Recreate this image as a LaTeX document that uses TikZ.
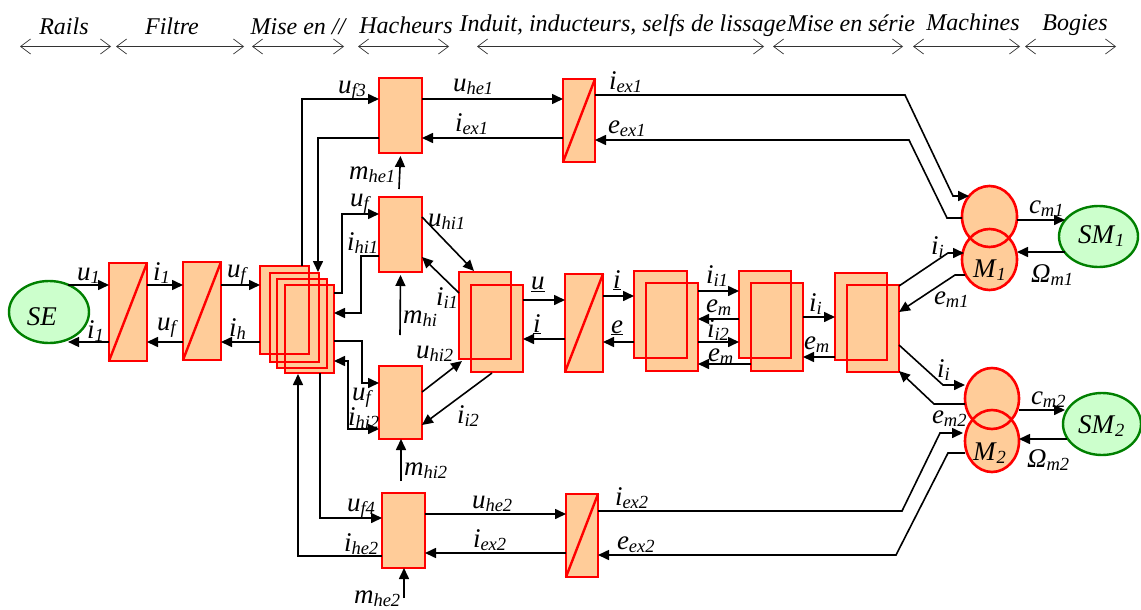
\documentclass[tikz,border=0pt]{standalone}
\usepackage{fontspec}
\setmainfont{Liberation Serif}
\usepackage{xcolor}
\definecolor{blocFill}{HTML}{FFCC99}
\definecolor{blocRed}{HTML}{FF0000}
\definecolor{sourceFill}{HTML}{CCFFCC}
\definecolor{sourceGreen}{HTML}{008000}
\usepackage{tikz}
\usetikzlibrary{arrows.meta,shapes.geometric}

\newcommand{\lab}[2]{\textit{#1}\raisebox{-3pt}{\fontsize{18.5}{18.5}\selectfont\textit{#2}}}
\newcommand{\listeblocs}{
  fa/rectangle/109/263/147/361, fb/rectangle/183/262/221/360,
  pa/rectangle/260/266/309/354, pb/rectangle/270/273/319/362,
  pc/rectangle/277/279/327/368, pd/rectangle/285/285/334/373,
  he1/rectangle/379/78/422/153, hi1/rectangle/379/197/422/272,
  hi2/rectangle/379/366/422/439, he2/rectangle/382/493/425/568,
  sx1/rectangle/563/79/595/162, sx2/rectangle/566/494/598/577,
  aa/rectangle/459/272/511/359, ab/rectangle/471/285/523/372,
  sl/rectangle/565/274/603/372,
  ba/rectangle/634/271/687/358, bb/rectangle/646/283/698/371,
  ca/rectangle/739/271/791/358, cb/rectangle/751/283/803/371,
  da/rectangle/835/273/887/360, db/rectangle/847/285/899/372,
  mc1/ellipse/962/186/1017/247, mm1/ellipse/962/229/1017/290,
  mc2/ellipse/965/368/1019/429, mm2/ellipse/965/410/1019/472}

\tikzset{
  fil/.style={black, line width=1.6pt},
  repere/.style={black!80, line width=0.7pt, {Straight Barb[length=10pt,width=15pt]}-{Straight Barb[length=10pt,width=15pt]}},
  source/.style={draw=sourceGreen, fill=sourceFill, line width=2.4pt, ellipse, inner sep=0pt, outer sep=0pt},
  texte/.style={anchor=base west, inner sep=0pt, outer sep=0pt},
  titre/.style={anchor=base, inner sep=0pt, outer sep=0pt, font=\fontsize{24}{26}\selectfont\itshape},
}

\begin{document}
\begin{tikzpicture}[x=1pt, y=-1pt, >={Triangle[length=11pt,width=10pt]}, font=\fontsize{27}{29}\selectfont]

    \useasboundingbox (0,0) rectangle (1141,610);

    % Bandeau du haut
    \foreach \xa/\xb/\xt/\yt/\titre [count=\n] in {
      20/111/64/35/Rails, 116/244/172/35/Filtre, 252/344/298/35/{Mise en //},
      358/449/406/34/Hacheurs, 477/764/623/32/{Induit, inducteurs, selfs de lissage},
      773/903/851/32/{Mise en série}, 913/1020/973/31/Machines, 1025/1116/1075/31/Bogies} {
        \node[titre] (t\n) at (\xt,\yt) {\titre};
        \coordinate (g\n) at (\xa,46.5);
        \coordinate (d\n) at (\xb,46.5);
        \draw[repere] (g\n) -- (d\n);
    }

    % Fonds des blocs
    \foreach \nom/\forme/\xa/\ya/\xb/\yb in \listeblocs {
        \node[shape=\forme, fill=blocFill, inner sep=0pt, outer sep=0pt,
              minimum width={\xb-\xa}, minimum height={\yb-\ya}]
              at ({(\xa+\xb)/2},{(\ya+\yb)/2}) {};
    }

    % Contours des blocs
    \foreach \nom/\forme/\xa/\ya/\xb/\yb in \listeblocs {
        \node[shape=\forme, draw=blocRed, line width=2.6pt, inner sep=0pt, outer sep=0pt,
              minimum width={\xb-\xa}, minimum height={\yb-\ya}]
              (\nom) at ({(\xa+\xb)/2},{(\ya+\yb)/2}) {};
    }
    \foreach \s in {fa, fb, sx1, sx2, sl} {
        \draw[blocRed, line width=2.4pt] (\s.south west) -- (\s.north east);
    }

    % Sources
    \node[source, minimum width=80, minimum height=62] (se) at (49,312) {};
    \node[source, minimum width=79, minimum height=61] (sm1) at (1098.5,236.5) {};
    \node[source, minimum width=78, minimum height=62] (sm2) at (1102,424) {};

    % Rails et filtre
    \draw[fil,->] (se.55 |- 0,285) -- (fa.west |- 0,285);
    \draw[fil,->] (fa.west |- 0,342) -- (se.-55 |- 0,342);
    \draw[fil,->] (fa.east |- 0,285) -- (fb.west |- 0,285);
    \draw[fil,->] (fb.west |- 0,342) -- (fa.east |- 0,342);
    \draw[fil,->] (fb.east |- 0,285) -- (pa.west |- 0,285);
    \draw[fil,->] (pa.west |- 0,342) -- (fb.east |- 0,342);

    % Hacheur d'excitation 1
    \draw[fil,->] (302,0 |- pa.north) -- (302,99) -- (he1.west |- 0,99);
    \draw[fil,->] (he1.west |- 0,138) -- (318,138) -- (318,272);
    \draw[fil,->] (he1.east |- 0,99) -- (sx1.west |- 0,99);
    \draw[fil,->] (sx1.west |- 0,138) -- (he1.east |- 0,138);
    \coordinate (mhea) at (399,189);
    \draw[fil,->] (mhea) -- (he1.south |- 0,156);
    \draw[fil,->] (sx1.east |- 0,95) -- (905,95) -- (953,196) -- (mc1.135);
    \draw[fil,->] (mc1.west |- 0,218) -- (947,218) -- (909,140) -- (sx1.east |- 0,140);

    % Hacheurs d'induit
    \draw[fil,->] (pd.east |- 0,293) -- (342,293) -- (342,214) -- (hi1.west |- 0,214);
    \draw[fil,->] (hi1.west |- 0,256) -- (361,256) -- (361,313) -- (pd.east |- 0,313);
    \draw[fil,->] (pd.east |- 0,341) -- (362,341) -- (362,383) -- (hi2.west |- 0,383);
    \draw[fil,<->] (pd.east |- 0,361) -- (348,361) -- (348,429) -- (hi2.west |- 0,429);
    \coordinate (mhia) at (400,335);
    \draw[fil,->] (mhia) -- (hi1.south |- 0,275);
    \coordinate (mhib) at (401,481);
    \draw[fil,->] (mhib) -- (hi2.south -| mhib);
    \draw[fil,->] (hi1.east |- 0,217) -- (474,271);
    \draw[fil,->] (aa.west |- 0,293) -- (hi1.east |- 0,257);
    \draw[fil,->] (hi2.east |- 0,392) -- (462,361);
    \draw[fil,->] (492,373) -- (hi2.east |- 0,425);

    % Hacheur d'excitation 2
    \draw[fil,->] (320,0 |- pd.south) -- (320,518) -- (he2.west |- 0,518);
    \draw[fil,->] (he2.west |- 0,556) -- (298,556) -- (298,374);
    \draw[fil,->] (he2.east |- 0,514) -- (sx2.west |- 0,514);
    \draw[fil,->] (sx2.west |- 0,553) -- (he2.east |- 0,553);
    \coordinate (mhec) at (404,598);
    \draw[fil,->] (mhec) -- (he2.south -| mhec);
    \draw[fil,->] (sx2.east |- 0,511) -- (902,511) -- (940,433) -- (963,433);
    \draw[fil,->] (mm2.west |- 0,453) -- (948,453) -- (896,555) -- (sx2.east |- 0,555);

    % Mise en serie
    \draw[fil,->] (ab.east |- 0,300) -- (sl.west |- 0,300);
    \draw[fil,->] (sl.west |- 0,339) -- (ab.east |- 0,339);
    \draw[fil,->] (sl.east |- 0,296) -- (ba.west |- 0,296);
    \draw[fil,->] (ba.west |- 0,342) -- (sl.east |- 0,342);
    \draw[fil,->] (bb.east |- 0,291) -- (ca.west |- 0,291);
    \draw[fil,->] (ca.west |- 0,319) -- (bb.east |- 0,319);
    \draw[fil,->] (bb.east |- 0,342) -- (ca.west |- 0,342);
    \draw[fil,->] (cb.west |- 0,364) -- (bb.east |- 0,364);
    \draw[fil,->] (cb.east |- 0,317) -- (da.west |- 0,317);
    \draw[fil,->] (da.west |- 0,357) -- (cb.east |- 0,357);

    % Machines
    \draw[fil,->] (db.east |- 0,286) -- (948,253) -- (964,253);
    \draw[fil,->] (965,275) -- (955,275) -- (db.east |- 0,312);
    \draw[fil,->] (db.east |- 0,345) -- (943,385) -- (965,385);
    \draw[fil,->] (965,404) -- (934,404) -- (db.east |- 0,371);
    \draw[fil,->] (mc1.east |- 0,220) -- (1065,220);
    \draw[fil,->] (1065,252) -- (mm1.east |- 0,252);
    \draw[fil,->] (mc2.east |- 0,410) -- (1065,410);
    \draw[fil,->] (1067,439) -- (mm2.east |- 0,439);

    % Grandeurs
    \foreach \x/\y/\texte [count=\n] in {
      77/280/{\lab{u}{1}}, 87/338/{\lab{i}{1}}, 153/280/{\lab{i}{1}}, 157/330/{\lab{u}{f}},
      227/277/{\lab{u}{f}}, 229/336/{\lab{i}{h}}, 350/206/{\lab{u}{f}}, 347/250/{\lab{i}{hi1}},
      352/400/{\lab{u}{f}}, 348/425/{\lab{i}{hi2}}, 338/93/{\lab{u}{f3}}, 453/92/{\lab{u}{he1}},
      609/89/{\lab{i}{ex1}}, 455/131/{\lab{i}{ex1}}, 608/133/{\lab{e}{ex1}}, 349/179/{\lab{m}{he1}},
      428/226/{\lab{u}{hi1}}, 436/305/{\lab{i}{i1}}, 403/323/{\lab{m}{hi}}, 416/358/{\lab{u}{hi2}},
      457/423/{\lab{i}{i2}}, 531/289/{\underline{\textit{u}}}, 533/332/{\underline{\textit{i}}},
      613/288/{\underline{\textit{i}}}, 611/333/{\underline{\textit{e}}}, 706/283/{\lab{i}{i1}},
      706/312/{\lab{e}{m}}, 707/337/{\lab{i}{i2}}, 708/361/{\lab{e}{m}}, 809/311/{\lab{i}{i}},
      804/349/{\lab{e}{m}}, 931/254/{\lab{i}{i}}, 934/304/{\lab{e}{m1}}, 1029/213/{\lab{c}{m1}},
      1031/282/{\lab{Ω}{m1}}, 937/377/{\lab{i}{i}}, 932/423/{\lab{e}{m2}}, 1031/404/{\lab{c}{m2}},
      1027/467/{\lab{Ω}{m2}}, 404/475/{\lab{m}{hi2}}, 347/511/{\lab{u}{f4}}, 472/508/{\lab{u}{he2}},
      615/505/{\lab{i}{ex2}}, 473/547/{\lab{i}{ex2}}, 617/549/{\lab{e}{ex2}}, 344/551/{\lab{i}{he2}},
      354/603/{\lab{m}{he2}}, 27/325/{\textit{SE}}, 973/277/{\lab{M}{1}}, 1078/243/{\lab{SM}{1}},
      973/460/{\lab{M}{2}}, 1078/433/{\lab{SM}{2}}} {
        \node[texte] (v\n) at (\x,\y) {\texte};
    }

\end{tikzpicture}
\end{document}
